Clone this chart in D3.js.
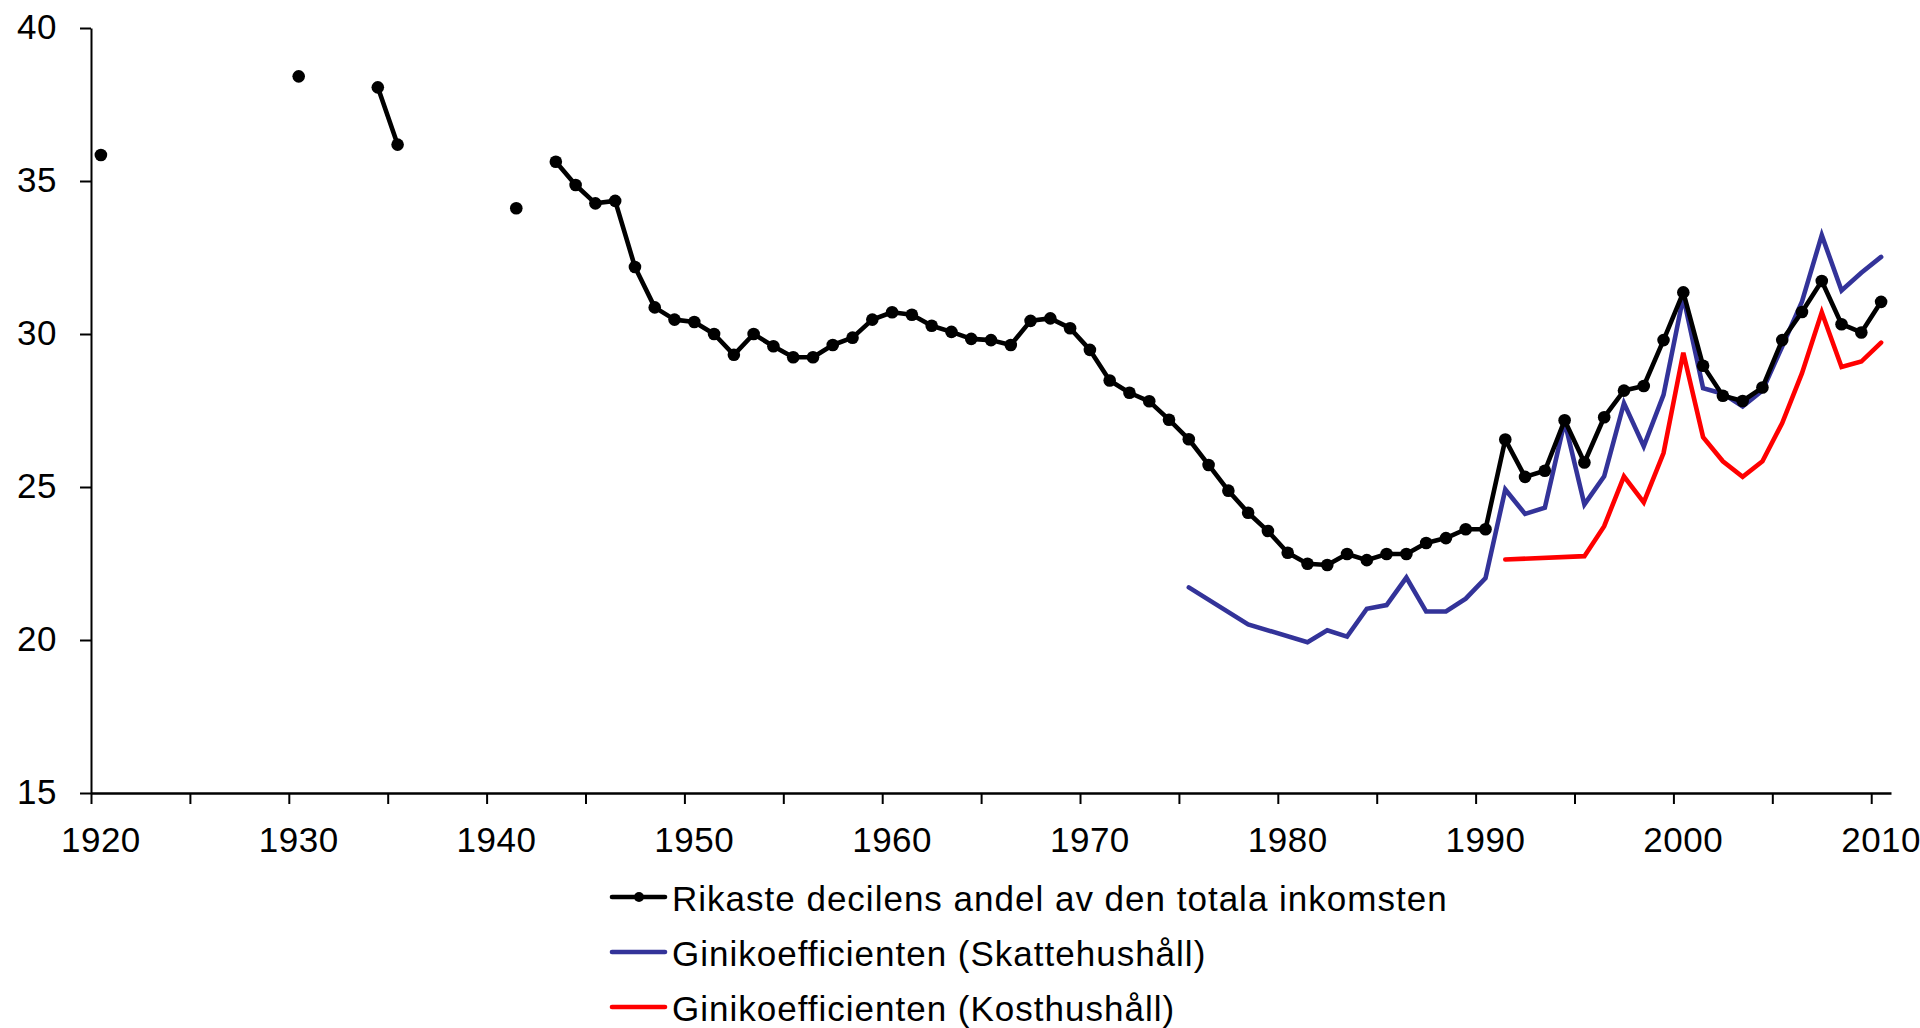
<!DOCTYPE html>
<html>
<head>
<meta charset="utf-8">
<script src="https://cdn.jsdelivr.net/npm/d3@7"></script>
<style>
  html, body { margin: 0; padding: 0; background: #ffffff; }
  svg { display: block; }
  text { font-family: "Liberation Sans", Arial, sans-serif; fill: #000; }
</style>
</head>
<body>
<svg id="chart" width="1920" height="1028"></svg>
<script>
// ---- Data ----
const yTicks = [15, 20, 25, 30, 35, 40];
const xLabelYears = [1920, 1930, 1940, 1950, 1960, 1970, 1980, 1990, 2000, 2010];
const xTickYears = [1920, 1925, 1930, 1935, 1940, 1945, 1950, 1955, 1960, 1965, 1970, 1975, 1980, 1985, 1990, 1995, 2000, 2005, 2010];

const topDecileYears = [1920, 1930, 1934, 1935, 1941,
  1943, 1944, 1945, 1946, 1947, 1948, 1949, 1950, 1951, 1952, 1953, 1954, 1955, 1956, 1957, 1958, 1959,
  1960, 1961, 1962, 1963, 1964, 1965, 1966, 1967, 1968, 1969, 1970, 1971, 1972, 1973, 1974, 1975, 1976,
  1977, 1978, 1979, 1980, 1981, 1982, 1983, 1984, 1985, 1986, 1987, 1988, 1989, 1990, 1991, 1992, 1993,
  1994, 1995, 1996, 1997, 1998, 1999, 2000, 2001, 2002, 2003, 2004, 2005, 2006, 2007, 2008, 2009, 2010];
const topDecileValues = [35.85, 38.42, 38.06, 36.19, 34.11,
  35.63, 34.87, 34.27, 34.35, 32.19, 30.87, 30.47, 30.39, 30.0, 29.32, 30.0, 29.6, 29.24, 29.24, 29.64, 29.88, 30.47,
  30.71, 30.63, 30.27, 30.07, 29.84, 29.8, 29.64, 30.43, 30.51, 30.19, 29.48, 28.48, 28.08, 27.8, 27.2, 26.56, 25.72,
  24.88, 24.16, 23.56, 22.85, 22.49, 22.45, 22.81, 22.61, 22.81, 22.81, 23.17, 23.33, 23.62, 23.62, 26.55, 25.33, 25.53,
  27.18, 25.8, 27.28, 28.15, 28.3, 29.8, 31.36, 28.96, 27.98, 27.81, 28.25, 29.8, 30.72, 31.73, 30.32, 30.05, 31.05];

const giniTaxYears = [1975, 1978, 1981, 1982, 1983, 1984, 1985, 1986, 1987, 1988, 1989, 1990, 1991, 1992, 1993,
  1994, 1995, 1996, 1997, 1998, 1999, 2000, 2001, 2002, 2003, 2004, 2005, 2006, 2007, 2008, 2009, 2010];
const giniTaxValues = [21.72, 20.51, 19.93, 20.32, 20.11, 21.02, 21.14, 22.04, 20.93, 20.93, 21.35, 22.02, 24.92, 24.12, 24.32,
  27.14, 24.43, 25.35, 27.74, 26.33, 28.01, 31.22, 28.23, 28.05, 27.63, 28.15, 29.59, 31.06, 33.23, 31.42, 32.0, 32.52];

const giniCostYears = [1991, 1995, 1996, 1997, 1998, 1999, 2000, 2001, 2002, 2003, 2004, 2005, 2006, 2007, 2008, 2009, 2010];
const giniCostValues = [22.63, 22.74, 23.72, 25.35, 24.5, 26.11, 29.39, 26.63, 25.84, 25.33, 25.84, 27.09, 28.72, 30.71, 28.92, 29.1, 29.72];

const legendLabels = [
  "Rikaste decilens andel av den totala inkomsten",
  "Ginikoefficienten (Skattehushåll)",
  "Ginikoefficienten (Kosthushåll)"
];
const seriesColors = ["#000000", "#333399", "#FF0000"];

// ---- Layout ----
const svg = d3.select("#chart");
const plotLeft = 91, plotRight = 1891, plotTop = 28, plotBottom = 793;
const fontSize = 35;
const lineW = 4.6;

const allYears = d3.range(1920, 2011);
const xBand = d3.scaleBand().domain(allYears).range([plotLeft, plotRight]).paddingInner(0).paddingOuter(0);
const xEdge = d3.scaleLinear().domain([1920, 2011]).range([plotLeft, plotRight]);
const yScale = d3.scaleLinear().domain([15, 40]).range([plotBottom, plotTop]);
const cx = yr => xBand(yr) + xBand.bandwidth() / 2;

// ---- Axes ----
const yAxis = svg.append("g")
  .attr("transform", `translate(${plotLeft},0)`)
  .call(d3.axisLeft(yScale).tickValues(yTicks).tickSizeInner(11).tickSizeOuter(0).tickPadding(23).tickFormat(d3.format("d")));
yAxis.select(".domain").attr("stroke", "#000").attr("stroke-width", 2);
yAxis.selectAll(".tick line").attr("stroke", "#000").attr("stroke-width", 2);
yAxis.selectAll(".tick text").attr("font-size", fontSize).attr("font-family", "'Liberation Sans', Arial, sans-serif")
  .attr("dy", "0.29em").attr("fill", "#000").attr("letter-spacing", "0.5px");

const xTicksAxis = svg.append("g")
  .attr("transform", `translate(0,${plotBottom})`)
  .call(d3.axisBottom(xEdge).tickValues(xTickYears).tickSizeInner(11).tickSizeOuter(0).tickFormat(""));
xTicksAxis.select(".domain").attr("stroke", "#000").attr("stroke-width", 2.5);
xTicksAxis.selectAll(".tick line").attr("stroke", "#000").attr("stroke-width", 2);

const xLabelAxis = svg.append("g")
  .attr("transform", `translate(0,${plotBottom})`)
  .call(d3.axisBottom(xBand).tickValues(xLabelYears).tickSize(0).tickPadding(34));
xLabelAxis.select(".domain").remove();
xLabelAxis.selectAll(".tick text").attr("font-size", fontSize).attr("font-family", "'Liberation Sans', Arial, sans-serif")
  .attr("fill", "#000").attr("letter-spacing", "0.5px");

// ---- Series ----
function toPoints(years, values) {
  return years.map((yr, i) => ({ year: yr, value: values[i] }));
}
const topPts = toPoints(topDecileYears, topDecileValues);
const taxPts = toPoints(giniTaxYears, giniTaxValues);
const costPts = toPoints(giniCostYears, giniCostValues);

const line = d3.line().x(d => cx(d.year)).y(d => yScale(d.value));

const runs = [];
topPts.forEach((p, i) => {
  if (i === 0 || p.year - topPts[i - 1].year > 1) runs.push([p]);
  else runs[runs.length - 1].push(p);
});

const plot = svg.append("g");

plot.append("path").datum(taxPts)
  .attr("d", line).attr("fill", "none").attr("stroke", seriesColors[1])
  .attr("stroke-width", lineW).attr("stroke-linejoin", "miter").attr("stroke-linecap", "round");

plot.append("path").datum(costPts)
  .attr("d", line).attr("fill", "none").attr("stroke", seriesColors[2])
  .attr("stroke-width", lineW).attr("stroke-linejoin", "miter").attr("stroke-linecap", "round");

runs.filter(r => r.length > 1).forEach(r => {
  plot.append("path").datum(r)
    .attr("d", line).attr("fill", "none").attr("stroke", seriesColors[0])
    .attr("stroke-width", lineW).attr("stroke-linejoin", "round").attr("stroke-linecap", "round");
});

plot.selectAll("circle.pt").data(topPts).enter().append("circle")
  .attr("class", "pt")
  .attr("cx", d => cx(d.year)).attr("cy", d => yScale(d.value))
  .attr("r", 6.3).attr("fill", seriesColors[0]);

// ---- Legend ----
const legend = svg.append("g");
legendLabels.forEach((label, i) => {
  const ly = 897 + i * 55;
  const g = legend.append("g");
  g.append("line").attr("x1", 612).attr("x2", 665).attr("y1", ly).attr("y2", ly)
    .attr("stroke", seriesColors[i]).attr("stroke-width", lineW).attr("stroke-linecap", "round");
  if (i === 0) {
    g.append("circle").attr("cx", 639).attr("cy", ly).attr("r", 5).attr("fill", seriesColors[0]);
  }
  g.append("text").attr("x", 672).attr("y", ly + 14)
    .attr("font-size", fontSize).attr("letter-spacing", "1px").text(label);
});
</script>
</body>
</html>
